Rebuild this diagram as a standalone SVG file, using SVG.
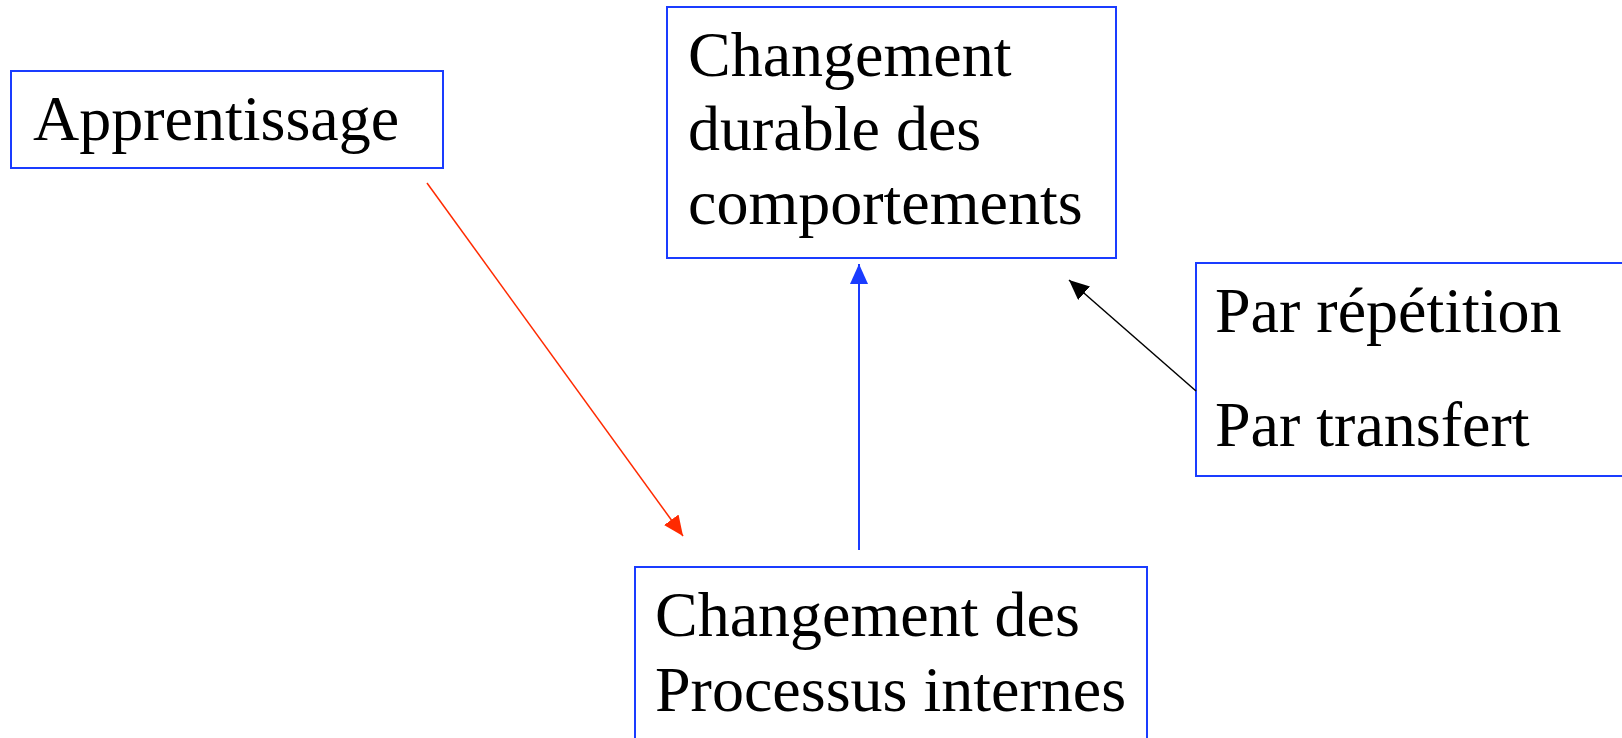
<svg xmlns="http://www.w3.org/2000/svg" width="1622" height="738" viewBox="0 0 1622 738">
  <style>
    .box { fill: #ffffff; stroke: #1a3cff; stroke-width: 2; }
    .lbl { font-family: "Liberation Serif", "Times New Roman", serif; font-size: 64px; fill: #000000; }
  </style>
  <defs>
    <!-- filled triangular heads, 20 long and 18 wide -->
    <marker id="headRed" viewBox="0 0 20 18" refX="20" refY="9" markerWidth="20" markerHeight="18" markerUnits="userSpaceOnUse" orient="auto">
      <path d="M0,0 L20,9 L0,18 z" fill="#ff2a00"/>
    </marker>
    <marker id="headBlue" viewBox="0 0 20 18" refX="20" refY="9" markerWidth="20" markerHeight="18" markerUnits="userSpaceOnUse" orient="auto">
      <path d="M0,0 L20,9 L0,18 z" fill="#1a3cff"/>
    </marker>
    <marker id="headBlack" viewBox="0 0 20 18" refX="20" refY="9" markerWidth="20" markerHeight="18" markerUnits="userSpaceOnUse" orient="auto">
      <path d="M0,0 L20,9 L0,18 z" fill="#000000"/>
    </marker>
  </defs>

  <rect width="1622" height="738" fill="#ffffff"/>

  <g id="apprentissage">
    <rect class="box" x="11" y="71" width="432" height="97"/>
    <text class="lbl" x="33" y="140">Apprentissage</text>
  </g>

  <g id="changement-durable">
    <rect class="box" x="667" y="7" width="449" height="251"/>
    <text class="lbl" x="688" y="76">Changement</text>
    <text class="lbl" x="688" y="150">durable des</text>
    <text class="lbl" x="688" y="224">comportements</text>
  </g>

  <g id="repetition-transfert">
    <rect class="box" x="1196" y="263" width="440" height="213"/>
    <text class="lbl" x="1215" y="332">Par répétition</text>
    <text class="lbl" x="1215" y="446">Par transfert</text>
  </g>

  <g id="processus-internes">
    <rect class="box" x="635" y="567" width="512" height="190"/>
    <text class="lbl" x="655" y="636">Changement des</text>
    <text class="lbl" x="655" y="711">Processus internes</text>
  </g>

  <g id="connectors">
    <line x1="427" y1="183" x2="683" y2="536" stroke="#ff2a00" stroke-width="1.5" marker-end="url(#headRed)"/>
    <line x1="859" y1="550" x2="859" y2="264" stroke="#1a3cff" stroke-width="2" marker-end="url(#headBlue)"/>
    <line x1="1196" y1="391" x2="1069" y2="280" stroke="#000000" stroke-width="1.5" marker-end="url(#headBlack)"/>
  </g>
</svg>
